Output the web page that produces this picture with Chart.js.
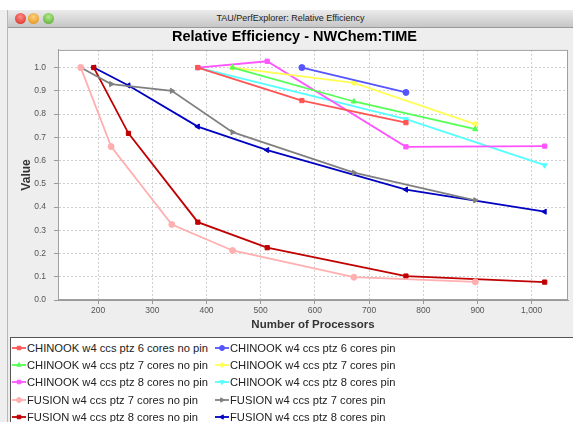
<!DOCTYPE html>
<html lang="en">
<head>
<meta charset="UTF-8" />
<title>TAU/PerfExplorer: Relative Efficiency</title>
<script src="https://cdn.jsdelivr.net/npm/chart.js"></script>
<style>
    body { margin: 0; width: 573px; height: 422px; overflow: hidden; background: #eeeeee; position: relative;
           font-family: "Liberation Sans", Arial, sans-serif; }
    #top { position: absolute; left: 0; top: 0; width: 573px; height: 10px; background: #fff; }
    #bar { position: absolute; left: 8px; top: 10px; width: 565px; height: 17px; border-bottom: 1px solid #9a9a9a;
           background: linear-gradient(#ebebeb, #c6c6c6); text-align: center; font-size: 9px; line-height: 17px; color: #222; }
    .dot { position: absolute; top: 3px; width: 11px; height: 11px; border-radius: 50%; }
    #edge { position: absolute; left: 7px; top: 10px; width: 1px; height: 412px; background: #b8b8b8; }
    #wrap { position: absolute; left: 0; top: 28px; width: 573px; height: 309px; }
    #legend { position: absolute; left: 10px; top: 337px; width: 563px; height: 85px; background: #fff;
              border-top: 1px solid #555; border-left: 1px solid #555; }
    .item { position: absolute; height: 14px; font-size: 11.2px; line-height: 14px; color: #222; white-space: nowrap; }
    .item canvas { vertical-align: top; margin-right: 1px; }
</style>
</head>
<body>
<div id="top"></div>
<div id="bar">
    <div class="dot" style="left:7px;background:radial-gradient(circle at 50% 35%, #ff8c86, #d4281f);"></div>
    <div class="dot" style="left:20px;background:radial-gradient(circle at 50% 35%, #ffd27a, #e08a12);"></div>
    <div class="dot" style="left:35px;background:radial-gradient(circle at 50% 35%, #b4ec8c, #4fa52c);"></div>
    TAU/PerfExplorer: Relative Efficiency
</div>
<div id="edge"></div>
<div id="wrap"><canvas id="effChart" width="573" height="309"></canvas></div>
<div id="legend"></div>

<script>
    // series names, in legend order
    const seriesNames = [
        "CHINOOK w4 ccs ptz 6 cores no pin", "CHINOOK w4 ccs ptz 6 cores pin",
        "CHINOOK w4 ccs ptz 7 cores no pin", "CHINOOK w4 ccs ptz 7 cores pin",
        "CHINOOK w4 ccs ptz 8 cores no pin", "CHINOOK w4 ccs ptz 8 cores pin",
        "FUSION w4 ccs ptz 7 cores no pin", "FUSION w4 ccs ptz 7 cores pin",
        "FUSION w4 ccs ptz 8 cores no pin", "FUSION w4 ccs ptz 8 cores pin"
    ];

    // processors (x) and relative efficiency (y) for each series
    const procsC6NoPin = [384, 576, 768];
    const effC6NoPin = [1.0, 0.858, 0.763];
    const procsC6Pin = [576, 768];
    const effC6Pin = [1.0, 0.893];
    const procsC7NoPin = [448, 672, 896];
    const effC7NoPin = [1.0, 0.854, 0.735];
    const procsC7Pin = [448, 672, 896];
    const effC7Pin = [1.0, 0.934, 0.757];
    const procsC8NoPin = [384, 512, 768, 1024];
    const effC8NoPin = [1.0, 1.027, 0.659, 0.662];
    const procsC8Pin = [384, 768, 1024];
    const effC8Pin = [1.0, 0.778, 0.58];
    const procsF7NoPin = [168, 224, 336, 448, 672, 896];
    const effF7NoPin = [1.0, 0.66, 0.325, 0.213, 0.098, 0.078];
    const procsF7Pin = [168, 224, 336, 448, 672, 896];
    const effF7Pin = [1.0, 0.929, 0.90, 0.722, 0.548, 0.429];
    const procsF8NoPin = [192, 256, 384, 512, 768, 1024];
    const effF8NoPin = [1.0, 0.717, 0.335, 0.225, 0.103, 0.077];
    const procsF8Pin = [192, 256, 384, 512, 768, 1024];
    const effF8Pin = [1.0, 0.923, 0.746, 0.645, 0.475, 0.38];

    const xTicksStep = 100;
    const yTicksStep = 0.1;

    const allProcs = [procsC6NoPin, procsC6Pin, procsC7NoPin, procsC7Pin, procsC8NoPin,
                      procsC8Pin, procsF7NoPin, procsF7Pin, procsF8NoPin, procsF8Pin];
    const allEff = [effC6NoPin, effC6Pin, effC7NoPin, effC7Pin, effC8NoPin,
                    effC8Pin, effF7NoPin, effF7Pin, effF8NoPin, effF8Pin];

    // jfreechart default paints and shapes
    const colors = ["#ff5555", "#5555ff", "#55ff55", "#ffff55", "#ff55ff",
                    "#55ffff", "#ffafaf", "#808080", "#c00000", "#0000c0"];
    const shapes = ["rect", "circle", "triangle", "rectRot", "rect",
                    "triangle", "circle", "triangle", "rect", "triangle"];
    const rotations = [0, 0, 0, 0, 0, 180, 0, 90, 0, -90];

    const datasets = seriesNames.map((name, i) => ({
        label: name,
        data: allProcs[i].map((p, k) => ({ x: p, y: allEff[i][k] })),
        borderColor: colors[i],
        backgroundColor: colors[i],
        borderWidth: 1.8,
        pointStyle: shapes[i],
        rotation: rotations[i],
        pointRadius: 3,
        pointBorderWidth: 1,
        tension: 0,
        fill: false
    }));

    const plotFrame = {
        id: "plotFrame",
        beforeDraw(chart) {
            const { ctx, chartArea: a } = chart;
            ctx.save();
            ctx.fillStyle = "#ffffff";
            ctx.fillRect(a.left, a.top, a.right - a.left, a.bottom - a.top);
            ctx.restore();
        },
        afterDraw(chart) {
            const { ctx, chartArea: a } = chart;
            ctx.save();
            ctx.strokeStyle = "#a0a0a0";
            ctx.lineWidth = 1;
            ctx.strokeRect(a.left + 0.5, a.top + 0.5, a.right - a.left - 1, a.bottom - a.top - 1);
            ctx.restore();
        }
    };

    const chart = new Chart(document.getElementById("effChart"), {
        type: "line",
        data: { datasets: datasets },
        plugins: [plotFrame],
        options: {
            responsive: false,
            animation: false,
            devicePixelRatio: 1,
            layout: { padding: { left: 19, right: 3, top: 0, bottom: 5 } },
            plugins: {
                legend: { display: false },
                tooltip: { enabled: false },
                title: {
                    display: true,
                    text: "Relative Efficiency - NWChem:TIME",
                    color: "#000",
                    font: { family: "Liberation Sans", size: 14.5, weight: "bold" },
                    padding: { top: 0.5, bottom: 4 }
                }
            },
            scales: {
                x: {
                    type: "linear",
                    min: 126,
                    max: 1067,
                    afterFit: s => { s.height = 32; },
                    ticks: { stepSize: xTicksStep, includeBounds: false, color: "#555",
                             font: { family: "Liberation Sans", size: 8.5 }, padding: 2, maxRotation: 0 },
                    grid: { color: "#cfcfcf", tickLength: 4, tickColor: "#999" },
                    border: { display: true, color: "#999", dash: [2, 2] },
                    title: { display: true, text: "Number of Processors", color: "#333",
                             font: { family: "Liberation Sans", size: 11.5, weight: "bold" }, padding: 0 }
                },
                y: {
                    min: 0,
                    max: 1.076,
                    afterFit: s => { s.width = 39; },
                    ticks: { stepSize: yTicksStep, includeBounds: false, color: "#555",
                             font: { family: "Liberation Sans", size: 8.5 }, padding: 8,
                             callback: v => v.toFixed(1) },
                    grid: { color: "#cfcfcf", tickLength: 4, tickColor: "#999" },
                    border: { display: true, color: "#999", dash: [2, 2] },
                    title: { display: true, text: "Value", color: "#333",
                             font: { family: "Liberation Sans", size: 12, weight: "bold" }, padding: 0 }
                }
            }
        }
    });

    // legend: two columns, rows in series order
    const legend = document.getElementById("legend");
    chart.data.datasets.forEach((ds, i) => {
        const item = document.createElement("div");
        item.className = "item";
        item.style.left = (i % 2 === 0 ? 1 : 204) + "px";
        item.style.top = (2.5 + Math.floor(i / 2) * 17.4) + "px";
        const c = document.createElement("canvas");
        c.width = 14; c.height = 14;
        const ctx = c.getContext("2d");
        ctx.strokeStyle = ds.borderColor;
        ctx.fillStyle = ds.borderColor;
        ctx.lineWidth = 1.8;
        ctx.beginPath(); ctx.moveTo(0, 7); ctx.lineTo(14, 7); ctx.stroke();
        ctx.lineWidth = 1;
        if (Chart.helpers && Chart.helpers.drawPoint) {
            Chart.helpers.drawPoint(ctx, { pointStyle: ds.pointStyle, rotation: ds.rotation, radius: 2.5, borderWidth: 1 }, 7, 7);
        } else {
            ctx.fillRect(5, 5, 4, 4);
        }
        item.appendChild(c);
        item.appendChild(document.createTextNode(ds.label));
        legend.appendChild(item);
    });
</script>
</body>
</html>
